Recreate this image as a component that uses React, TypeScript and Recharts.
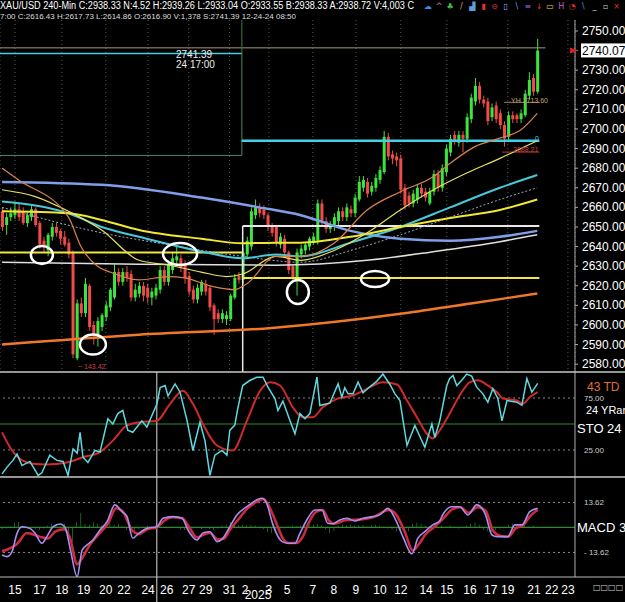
import React from 'react';
import { ComposedChart, Bar, Line, XAxis, YAxis, CartesianGrid, ReferenceLine, ReferenceDot } from 'recharts';

const FONT = '"Liberation Sans", Arial, sans-serif';

// 240-min candles, [open, close, high, low]
const candles: number[][] = [
  [2658, 2650, 2660, 2648], [2651, 2655, 2657, 2646], [2655, 2657, 2660, 2653], [2656, 2659, 2663, 2654],
  [2659, 2655, 2662, 2653], [2658, 2652, 2660, 2651], [2652, 2656, 2658, 2650], [2655, 2659, 2661, 2653],
  [2659, 2651, 2660, 2650], [2652, 2641, 2653, 2639], [2643, 2640, 2645, 2637], [2638, 2646, 2647, 2635],
  [2645, 2650, 2652, 2643], [2650, 2647, 2652, 2645], [2648, 2644, 2649, 2641], [2645, 2641, 2648, 2640],
  [2642, 2636, 2644, 2634], [2637, 2585, 2638, 2583], [2583, 2611, 2613, 2582], [2611, 2606, 2614, 2604],
  [2606, 2621, 2624, 2604], [2620, 2599, 2621, 2597], [2600, 2595, 2602, 2590], [2595, 2602, 2604, 2589],
  [2599, 2605, 2606, 2597], [2604, 2610, 2612, 2602], [2609, 2618, 2619, 2607], [2614, 2627, 2631, 2613],
  [2627, 2622, 2629, 2620], [2622, 2627, 2629, 2620], [2627, 2624, 2630, 2622], [2626, 2614, 2628, 2612],
  [2614, 2618, 2621, 2612], [2616, 2620, 2622, 2614], [2620, 2615, 2622, 2612], [2619, 2614, 2621, 2611],
  [2614, 2617, 2619, 2610], [2615, 2619, 2621, 2613], [2618, 2628, 2630, 2616], [2628, 2622, 2630, 2620],
  [2622, 2631, 2633, 2620], [2628, 2634, 2637, 2626], [2633, 2635, 2640, 2631], [2634, 2629, 2636, 2627],
  [2631, 2624, 2633, 2621], [2625, 2617, 2627, 2615], [2618, 2613, 2620, 2611], [2613, 2619, 2621, 2611],
  [2617, 2622, 2623, 2615], [2621, 2617, 2623, 2615], [2619, 2609, 2620, 2607], [2610, 2603, 2611, 2595],
  [2606, 2603, 2608, 2601], [2603, 2606, 2608, 2601], [2603, 2605, 2607, 2600], [2603, 2615, 2616, 2602],
  [2614, 2624, 2626, 2613], [2625, 2623, 2627, 2621], [2623, 2637, 2639, 2621], [2636, 2643, 2645, 2634],
  [2640, 2658, 2660, 2638], [2656, 2660, 2664, 2654], [2660, 2657, 2662, 2655], [2659, 2656, 2661, 2654],
  [2656, 2650, 2657, 2648], [2651, 2647, 2652, 2645], [2650, 2642, 2651, 2640], [2641, 2645, 2647, 2639],
  [2644, 2637, 2646, 2635], [2637, 2628, 2638, 2626], [2630, 2624, 2631, 2622], [2624, 2637, 2639, 2615],
  [2636, 2639, 2641, 2634], [2638, 2641, 2642, 2636], [2640, 2644, 2645, 2638], [2642, 2645, 2647, 2641],
  [2643, 2662, 2664, 2641], [2662, 2653, 2664, 2651], [2653, 2649, 2655, 2647], [2649, 2651, 2653, 2647],
  [2650, 2655, 2657, 2648], [2653, 2658, 2660, 2651], [2658, 2655, 2660, 2653], [2655, 2660, 2662, 2653],
  [2659, 2657, 2661, 2655], [2657, 2665, 2667, 2655], [2664, 2673, 2676, 2663], [2670, 2674, 2676, 2668],
  [2673, 2667, 2675, 2665], [2668, 2671, 2673, 2666], [2670, 2675, 2677, 2668], [2674, 2679, 2681, 2672],
  [2678, 2696, 2699, 2677], [2696, 2686, 2698, 2684], [2687, 2685, 2689, 2682], [2686, 2684, 2688, 2681],
  [2685, 2669, 2687, 2667], [2670, 2661, 2672, 2659], [2666, 2662, 2668, 2660], [2662, 2667, 2669, 2660],
  [2664, 2670, 2672, 2662], [2670, 2667, 2672, 2665], [2668, 2665, 2670, 2663], [2662, 2668, 2670, 2661],
  [2668, 2677, 2679, 2666], [2677, 2670, 2679, 2668], [2670, 2680, 2682, 2668], [2678, 2690, 2692, 2676],
  [2688, 2695, 2697, 2686], [2697, 2694, 2699, 2692], [2693, 2697, 2699, 2691], [2697, 2695, 2699, 2688],
  [2695, 2706, 2708, 2693], [2705, 2716, 2718, 2703], [2714, 2722, 2726, 2712], [2722, 2715, 2724, 2713],
  [2715, 2713, 2717, 2711], [2714, 2704, 2716, 2702], [2706, 2711, 2713, 2704], [2712, 2705, 2714, 2703],
  [2708, 2702, 2710, 2700], [2702, 2695, 2704, 2691], [2696, 2707, 2709, 2694], [2707, 2705, 2709, 2703],
  [2707, 2705, 2708, 2703], [2705, 2708, 2710, 2703], [2707, 2718, 2720, 2706], [2717, 2725, 2729, 2715],
  [2726, 2719, 2728, 2717], [2719, 2740, 2746, 2718],
];

const lastPrice = 2740.07;
const priceTicks = [2580, 2590, 2600, 2610, 2620, 2630, 2640, 2650, 2660, 2670, 2680, 2690, 2700, 2710, 2720, 2730, lastPrice, 2750];

const dateTicks = [3.1, 9.1, 14.4, 19.7, 25, 29.4, 35.2, 39.7, 45, 49.1, 54.8, 58.6, 64.3, 68.7, 74.9, 80, 85.3, 91.1, 96.1, 102.2, 107.2, 112.8, 117.8, 121.9, 128.2, 132.5, 136.4];
const dateLabels = ['15', '17', '18', '19', '20', '22', '24', '26', '27', '29', '31', '2', '3', '5', '7', '8', '9', '10', '12', '14', '15', '16', '17', '19', '21', '22', '23'];

// moving averages, [bar, price]
const maLongOrange = [[0, 2590], [33, 2595], [65, 2598.5], [97, 2606], [113, 2611], [129, 2616]];
const maBlue = [[0, 2673], [24, 2671.5], [48, 2665], [62, 2660], [72, 2656], [84, 2648], [96, 2644], [108, 2643], [120, 2645], [129, 2648]];
const maCyan = [[0, 2663], [16, 2657], [24, 2650], [33, 2645], [48, 2637.5], [58, 2634], [66, 2636], [72, 2635], [84, 2642], [96, 2650], [108, 2660], [120, 2670], [129, 2676.5]];
const maDotted = [[0, 2660], [24, 2647], [40, 2641], [58, 2635], [72, 2632], [84, 2638], [96, 2646], [108, 2655], [120, 2664], [129, 2670]];
const maYellowSlow = [[0, 2658], [16, 2657], [24, 2653.6], [33, 2648.5], [48, 2644], [58, 2641.7], [66, 2642], [72, 2642], [84, 2645], [96, 2650], [108, 2654.6], [120, 2658.7], [129, 2664]];
const maYellowFast = [[0, 2669], [8, 2665.5], [16, 2658], [24, 2648.5], [33, 2633], [40, 2630.6], [48, 2627], [54, 2624.7], [58, 2626], [66, 2635], [72, 2633], [80, 2638], [88, 2647], [96, 2658.7], [104, 2669], [112, 2677.5], [120, 2685], [129, 2694]];
const maOrangeFast = [[0, 2680], [4, 2674], [16, 2655], [19, 2640], [23, 2630], [26, 2627], [33, 2623], [40, 2624.7], [44, 2624], [51, 2619.5], [56, 2618], [59, 2621], [66, 2635], [72, 2635], [80, 2641.7], [88, 2658.7], [96, 2668], [104, 2675.7], [108, 2682.5], [114, 2691], [120, 2695.3], [125, 2699.5], [129, 2708]];
const maWhite = [[0, 2632], [33, 2631], [66, 2630.5], [88, 2633], [104, 2637.4], [120, 2642.5], [129, 2646]];

// annotation ellipses [bar, price, rx, ry]
const circles = [[9.6, 2635.7, 11, 9], [21.9, 2590, 13, 10], [42.9, 2636.2, 17, 11], [71.3, 2616.8, 11, 12], [89.9, 2623.5, 14, 8]];

// stochastic
const stochK = [[0, 2], [1.2, 8.5], [2.6, 15], [3.6, 21], [4.8, 10], [6.7, 14], [8.7, 0.5], [9.6, 3], [11.5, 20], [13.2, 15], [14.7, 14], [15.9, 0.5], [17.1, 26], [18.1, 22], [18.8, 42], [19.5, 18], [20.7, 13], [22.4, 24.5], [23.6, 23], [25.5, 55], [26.7, 50], [27.9, 60], [29.1, 63], [30.3, 44], [31.5, 42], [33.7, 53], [34.9, 47], [37.3, 69], [38.1, 85], [39.3, 87], [40, 77], [41.7, 88.6], [42.9, 80.6], [44.6, 53], [46, 24.5], [47.7, 51.7], [48.9, 34], [50.1, 0.5], [51.3, 20], [53, 24.5], [54.2, 20], [54.9, 44], [56.1, 49], [56.8, 64.6], [58, 87], [59.7, 91.8], [61.4, 95], [62.9, 95], [64.1, 85.4], [65.8, 74.2], [66.5, 63], [67.7, 72], [69.4, 53], [70.6, 40.6], [71.8, 60], [73, 55], [74.2, 60], [75.9, 95], [76.6, 67.8], [77.8, 69], [79, 70], [81, 88.6], [81.9, 75.8], [82.6, 85], [83.4, 79], [84.6, 79], [85.8, 90.2], [87, 80], [88.7, 86], [90.3, 91], [91.8, 98], [93.5, 88], [94.7, 79], [95.9, 72.6], [97.6, 29.3], [99.5, 48.6], [100.7, 38], [101.9, 27.7], [103.6, 50], [104.3, 37], [105.5, 53], [107.2, 87], [107.9, 93.7], [108.7, 96.6], [109.6, 87], [110.8, 92], [112, 98], [113.2, 96], [114.4, 85.4], [115.9, 79], [117.1, 71], [118.3, 84], [119.5, 74.5], [120.5, 53], [121.7, 72.6], [124.1, 71], [125.3, 68], [126.5, 93.7], [127.7, 80.6], [129.1, 89]];
const stochD = [[0, 42], [1.9, 27.7], [4.3, 16.5], [7.5, 11.7], [10.8, 11], [15.6, 13], [19.5, 18], [23.6, 23], [26.7, 34], [30.1, 48.6], [33.2, 51.7], [37.3, 53], [40.5, 69.4], [43.6, 82], [46, 69.4], [48.4, 50], [51.8, 29.3], [55.6, 24.5], [59, 53], [62.2, 82], [64.6, 90.2], [67, 87], [70.1, 66], [72.5, 56.5], [74.9, 56.5], [77.3, 66], [80.7, 74.2], [84.6, 77.4], [87.9, 83.8], [91.8, 90.2], [95.2, 88], [97.6, 72.6], [100, 56.5], [102.4, 40.6], [103.8, 36], [105.5, 44], [107.9, 60], [110.3, 77.4], [112.8, 90.2], [114.7, 92], [117.1, 87], [119.3, 80.6], [120.7, 74.5], [124.1, 72.6], [125.5, 69.4], [127.2, 75.8], [129.1, 80.6]];

// MACD
const macdLine = [[0, -15], [1.2, -15.9], [2.4, -13.2], [3.6, -3.2], [4.8, 0.4], [6.7, -0.5], [7.9, -3], [9.6, -8.6], [10.8, -5], [12.3, 0.4], [14, 1.9], [15.2, 0], [16.4, -11.3], [18.1, -26.8], [19.3, -12.3], [20.5, -9.5], [21.9, -6.8], [23.6, -1.4], [25.3, 3.2], [27.2, 12.3], [28.9, 8.6], [30.1, 6], [31.5, -5.9], [32.8, -3.5], [34.9, -0.5], [37.3, 0.4], [38.8, 5], [41.2, 5.9], [43.4, 5], [44.8, -1.4], [47, -6.8], [48.4, -3], [50.1, -2.3], [51.8, -7.7], [53.2, -6], [54.9, 0.4], [56.6, 6.8], [59, 11.3], [61.4, 15], [62.6, 15.9], [63.8, 13], [65.3, 1.4], [67.5, -7.7], [68.9, -8.6], [70.6, -8.6], [71.8, -3.2], [73.7, 5], [75.4, 9.5], [77.1, 9.5], [78.5, 2.3], [79.7, 2], [81.4, 4.1], [83.1, 5], [85, 3.5], [87, 5], [89.4, 5.9], [91.1, 7], [93, 10.4], [94.7, 5], [96.6, -5], [98.8, -14.4], [100.2, -6], [101.9, -2.3], [103.8, 1.4], [105.5, 3.7], [106.2, 6.8], [108.4, 11.3], [110.3, 11.3], [112.3, 6.8], [114.4, 12.3], [116.4, 7.7], [118.1, -4.1], [119.3, -5], [121.9, -5], [123.6, 1.4], [125.3, 1.4], [127.2, 8.6], [129.1, 10.4]];
const macdSignal = [[0, -13], [3.6, -9], [6, -3], [9, -5], [11, -6], [13, -2], [15, -1], [16.4, -6], [18.1, -20], [19.5, -16], [21, -10], [23.6, -3], [25.5, 2], [27.5, 10.5], [29, 9], [31.5, -2], [33, -3.5], [35, -1], [37.3, 0], [39, 3.5], [41.2, 5.5], [43.4, 5], [45, 0.5], [47, -5.5], [48.5, -4], [50.1, -3], [52, -6.5], [53.5, -6], [55, -1], [57, 4.5], [59, 10], [61.4, 14], [63, 15.5], [64, 13], [66, 3], [67.7, -6], [69, -8.5], [71, -8.5], [72.5, -5], [74, 3], [75.7, 8.5], [77.3, 9.5], [78.7, 4], [80, 2], [83, 4], [87, 4.5], [89.4, 5.5], [93.2, 9.5], [95, 7], [97, -2], [99, -12.5], [100.5, -9], [102, -4], [104, 0], [106.4, 5], [108.6, 10], [110.5, 11], [112.5, 8], [114.6, 11], [116.6, 9], [118.3, -1.5], [120, -4.5], [122, -5], [123.8, -0.5], [125.5, 1], [127.4, 6.5], [129.1, 9.5]];
const macdHist = [
  -1, -0.5, 0.5, 2.5, 3, 1, 0.5, -0.5, -1, -1.5, -0.5, 1, 2, 1.5, 0.5, 2, -6, -8, 3, 8,
  2, 1.5, 3, 2, 1, 3, 2.5, 1.5, 2, 0.5, -1.5, -2, -2.5, -1, 0.5, 1, 0.5, 1, 0.5, 0,
  -0.5, 0.5, 0, -1, -1.5, -1, -0.5, 0.5, -1, -0.5, -1, -1.5, -0.5, 1, 1.5, 3, 2.5, 1, 1.5, 1,
  1.5, 1, 0.5, -1, -2.5, -3, -2, -1, -0.5, 0.5, 1, 0.5, 1, 2, 2.5, 1.5, 2, 1, -1, -3,
  -2, 1, 1.5, 1, 1.5, 1, 1, 1.5, 0.5, 1, 1.5, 1, 0.5, -0.5, -1, -2, -3, -2.5, -2, 2,
  2.5, 2, 1, 0.5, -0.5, 0.5, 1, 0.5, 1, 0.5, -0.5, 0.5, 1, 2, 2.5, 1.5, -1, -2, -2.5, -1.5,
  -0.5, 0.5, 1.5, 2, 1.5, 1, 1, 0.5, 1, 0.5,
];

const priceData = candles.map(([o, c, h, l], i) => ({ i, o, c, h, l }));
const histData = macdHist.map((h, i) => ({ i, h }));
const pts = (arr: number[][]) => arr.map(([i, v]) => ({ i, v }));

const X_DOMAIN: [number, number] = [-0.5, 138.1];
const UP = '#3ee43e';
const DOWN = '#f04a4a';

function Candle(props: any) {
  const { x, y, width, height, payload } = props;
  const { o, c, h, l } = payload;
  const top = Math.min(y, y + height);
  const span = Math.abs(height);
  const py = (v: number) => top + ((h - v) / (h - l)) * span;
  const color = c >= o ? UP : DOWN;
  const cx = x + width / 2;
  const bt = py(Math.max(o, c));
  const bb = py(Math.min(o, c));
  return (
    <g>
      <line x1={cx} x2={cx} y1={top} y2={top + span} stroke={color} strokeWidth={1} />
      <rect x={x} y={bt} width={width} height={Math.max(1, bb - bt)} fill={color} />
    </g>
  );
}

function PriceTick(props: any) {
  const { x, y, payload } = props;
  if (payload.value === lastPrice) {
    return (
      <g>
        <polygon points={`${x - 10},${y - 3} ${x - 2},${y} ${x - 10},${y + 3}`} fill="#e02020" />
        <rect x={x + 1} y={y - 7} width={50} height={14} fill="#fff" />
        <text x={x + 2} y={y + 5} fill="#000" fontSize={12} fontFamily={FONT}>{lastPrice.toFixed(2)}</text>
      </g>
    );
  }
  return (
    <text x={x + 2} y={y + 4} fill="#fff" fontSize={12} fontFamily={FONT}>{payload.value.toFixed(2)}</text>
  );
}

function DateTick(props: any) {
  const { x, y, payload } = props;
  const k = dateTicks.indexOf(payload.value);
  return (
    <text x={x} y={y + 9} fill="#fff" fontSize={12} textAnchor="middle" fontFamily={FONT}>{dateLabels[k]}</text>
  );
}

const ellipseShape = (rx: number, ry: number) => (p: any) => (
  <ellipse cx={p.cx} cy={p.cy} rx={rx} ry={ry} fill="none" stroke="#fff" strokeWidth={2.5} />
);

const icons = [
  ['☁', '#3a8ee8'], ['^', '#e060c0'], ['♣', '#40c040'], ['/', '#e0a030'], ['▟', '#60a0e0'], ['▮', '#e03030'],
  ['⊖', '#e03030'], ['▯', '#a0a0ff'], ['\\', '#60a0e0'], ['≡', '#a070e0'], ['↓', '#e03030'], ['▭', '#f0e020'],
  ['H', '#c060c0'], ['◔', '#e03030'], ['\\', '#3090f0'], ['_', '#ccc'], ['▫', '#ccc'], ['×', '#e03030'],
];

export default function App() {
  return (
    <div style={{ position: 'absolute', left: 0, top: 0, width: 625, height: 602, background: '#000', overflow: 'hidden', fontFamily: FONT }}>
      {/* price panel */}
      <div style={{ position: 'absolute', left: 0, top: 20 }}>
        <ComposedChart width={625} height={352} data={priceData} margin={{ top: 0, right: 0, bottom: 0, left: 0 }}>
          <CartesianGrid horizontal={false} stroke="#5a5a5a" strokeDasharray="1 3" />
          <XAxis dataKey="i" type="number" domain={X_DOMAIN} ticks={dateTicks} hide allowDataOverflow />
          <YAxis
            orientation="right"
            width={50}
            domain={[2576, 2755.6]}
            ticks={priceTicks}
            interval={0}
            allowDataOverflow
            axisLine={{ stroke: '#aaa' }}
            tickLine={{ stroke: '#aaa' }}
            tickSize={3}
            tick={<PriceTick />}
          />
          {/* drawn levels */}
          <ReferenceLine segment={[{ x: -0.5, y: 2741.39 }, { x: 131, y: 2741.39 }]} stroke="#a89878" strokeWidth={1} />
          <ReferenceLine segment={[{ x: -0.5, y: 2738.5 }, { x: 57.8, y: 2738.5 }]} stroke="#40d0e0" strokeWidth={1.5} />
          <ReferenceLine segment={[{ x: 57.8, y: 2755.6 }, { x: 57.8, y: 2738.5 }]} stroke="#3a7a3a" strokeWidth={1} />
          <ReferenceLine segment={[{ x: 57.8, y: 2738.5 }, { x: 57.8, y: 2686.5 }]} stroke="#4a8a6a" strokeWidth={1} />
          <ReferenceLine segment={[{ x: -0.5, y: 2686.5 }, { x: 57.8, y: 2686.5 }]} stroke="#4a8a6a" strokeWidth={1} />
          <ReferenceLine segment={[{ x: 57.8, y: 2694 }, { x: 129.5, y: 2694 }]} stroke="#40d0e8" strokeWidth={2.5} />
          <ReferenceLine segment={[{ x: 121, y: 2713.6 }, { x: 129.5, y: 2713.6 }]} stroke="#a08060" strokeWidth={1} />
          <ReferenceLine segment={[{ x: 120.5, y: 2688.2 }, { x: 129.5, y: 2688.2 }]} stroke="#c03030" strokeWidth={1} />
          <ReferenceLine segment={[{ x: 58, y: 2650.5 }, { x: 129.5, y: 2650.5 }]} stroke="#e8e8e8" strokeWidth={2} />
          <ReferenceLine segment={[{ x: 58, y: 2650.5 }, { x: 58, y: 2576 }]} stroke="#e8e8e8" strokeWidth={1.5} />
          <ReferenceLine segment={[{ x: -0.5, y: 2637 }, { x: 58, y: 2637 }]} stroke="#f0e840" strokeWidth={2} />
          <ReferenceLine segment={[{ x: 58, y: 2624 }, { x: 129.5, y: 2624 }]} stroke="#f0e840" strokeWidth={2} />
          {/* moving averages */}
          <Line data={pts(maLongOrange)} dataKey="v" type="monotone" stroke="#f07828" strokeWidth={2.5} dot={false} isAnimationActive={false} />
          <Line data={pts(maWhite)} dataKey="v" type="monotone" stroke="#e0e0e0" strokeWidth={1.5} dot={false} isAnimationActive={false} />
          <Line data={pts(maBlue)} dataKey="v" type="monotone" stroke="#7f9fe8" strokeWidth={2.5} dot={false} isAnimationActive={false} />
          <Line data={pts(maDotted)} dataKey="v" type="monotone" stroke="#9aaabb" strokeWidth={1} strokeDasharray="2 2" dot={false} isAnimationActive={false} />
          <Line data={pts(maCyan)} dataKey="v" type="monotone" stroke="#48c8d8" strokeWidth={2} dot={false} isAnimationActive={false} />
          <Line data={pts(maYellowSlow)} dataKey="v" type="monotone" stroke="#f0e832" strokeWidth={2} dot={false} isAnimationActive={false} />
          <Line data={pts(maYellowFast)} dataKey="v" type="monotone" stroke="#e8e060" strokeWidth={1.2} dot={false} isAnimationActive={false} />
          <Line data={pts(maOrangeFast)} dataKey="v" type="monotone" stroke="#d8844c" strokeWidth={1.2} dot={false} isAnimationActive={false} />
          <Bar dataKey={(d: any) => [d.l, d.h]} barSize={3} shape={<Candle />} isAnimationActive={false} />
          {circles.map(([i, p, rx, ry], k) => (
            <ReferenceDot key={k} x={i} y={p} r={1} shape={ellipseShape(rx, ry)} />
          ))}
        </ComposedChart>
      </div>

      {/* stochastic panel */}
      <div style={{ position: 'absolute', left: 0, top: 372 }}>
        <ComposedChart width={625} height={105} margin={{ top: 0, right: 0, bottom: 0, left: 0 }}>
          <XAxis dataKey="i" type="number" domain={X_DOMAIN} hide allowDataOverflow />
          <YAxis
            orientation="right"
            width={50}
            domain={[-1, 100]}
            ticks={[25, 75]}
            allowDataOverflow
            axisLine={{ stroke: '#aaa' }}
            tickLine={false}
            tickMargin={3}
            tickFormatter={(v: number) => v.toFixed(2)}
            tick={{ fill: '#ccc', fontSize: 8, fontFamily: FONT }}
          />
          <ReferenceLine y={75} stroke="#888" strokeDasharray="2 3" />
          <ReferenceLine y={25} stroke="#888" strokeDasharray="2 3" />
          <ReferenceLine y={50} stroke="#2f8a2f" strokeWidth={1.2} />
          <ReferenceLine x={37.3} stroke="#ddd" strokeWidth={1} />
          <Line data={pts(stochD)} dataKey="v" type="monotone" stroke="#d02a2a" strokeWidth={2} dot={false} isAnimationActive={false} />
          <Line data={pts(stochK)} dataKey="v" type="linear" stroke="#5fd8e0" strokeWidth={1.5} dot={false} isAnimationActive={false} />
        </ComposedChart>
      </div>

      {/* MACD panel with date axis */}
      <div style={{ position: 'absolute', left: 0, top: 477 }}>
        <ComposedChart width={625} height={125} data={histData} margin={{ top: 0, right: 0, bottom: 0, left: 0 }}>
          <XAxis
            dataKey="i"
            type="number"
            domain={X_DOMAIN}
            ticks={dateTicks}
            interval={0}
            height={25}
            allowDataOverflow
            axisLine={{ stroke: '#bbb' }}
            tickLine={false}
            tick={<DateTick />}
          />
          <YAxis
            orientation="right"
            width={50}
            domain={[-27, 27.5]}
            ticks={[-13.62, 13.62]}
            allowDataOverflow
            axisLine={{ stroke: '#aaa' }}
            tickLine={false}
            tickMargin={3}
            tickFormatter={(v: number) => (v < 0 ? '- 13.62' : '13.62')}
            tick={{ fill: '#ccc', fontSize: 8, fontFamily: FONT }}
          />
          <ReferenceLine y={13.62} stroke="#888" strokeDasharray="2 3" />
          <ReferenceLine y={-13.62} stroke="#888" strokeDasharray="2 3" />
          <ReferenceLine y={0} stroke="#2f8a2f" strokeWidth={1.2} />
          <ReferenceLine segment={[{ x: 37.3, y: 27.5 }, { x: 37.3, y: -41 }]} stroke="#ddd" strokeWidth={1} ifOverflow="visible" />
          <Bar dataKey="h" barSize={2.5} fill="#55ee55" isAnimationActive={false} />
          <Line data={pts(macdSignal)} dataKey="v" type="monotone" stroke="#d02a40" strokeWidth={2.5} dot={false} isAnimationActive={false} />
          <Line data={pts(macdLine)} dataKey="v" type="monotone" stroke="#a58ff0" strokeWidth={1.6} dot={false} isAnimationActive={false} />
        </ComposedChart>
      </div>

      {/* header, separators and labels */}
      <svg width={625} height={602} style={{ position: 'absolute', left: 0, top: 0, pointerEvents: 'none' }} fontFamily={FONT}>
        <text x={0} y={9} fill="#fff" fontSize={10} textLength={414} lengthAdjust="spacingAndGlyphs">
          XAU/USD 240-Min C:2938.33 N:4.52 H:2939.26 L:2933.04 O:2933.55 B:2938.33 A:2938.72 V:4,003 C
        </text>
        {icons.map(([g, c], k) => (
          <text key={k} x={428 + k * 11.1} y={9} fill={c} fontSize={8} textAnchor="middle" fontFamily="DejaVu Sans">{g}</text>
        ))}
        <text x={0} y={19} fill="#ddd" fontSize={8} textLength={296} lengthAdjust="spacingAndGlyphs">
          7:00 C:2616.43 H:2617.73 L:2614.86 O:2616.90 V:1,378 S:2741.39 12-24-24 08:50
        </text>
        <text x={176} y={58} fill="#eee" fontSize={10}>2741.39</text>
        <text x={176} y={68} fill="#eee" fontSize={10}>24 17:00</text>
        <text x={511} y={103} fill="#c8a070" fontSize={7}>YH 2713.60</text>
        <text x={535} y={141} fill="#40d0e0" fontSize={7}>0</text>
        <text x={513} y={152} fill="#d04040" fontSize={7}>2688.21</text>
        <text x={78} y={369} fill="#d04040" fontSize={7}>~ 143.42</text>
        <line x1={0} x2={625} y1={372} y2={372} stroke="#c8c8c8" strokeWidth={1.5} />
        <line x1={0} x2={625} y1={477} y2={477} stroke="#c8c8c8" strokeWidth={1.5} />
        <line x1={575} x2={625} y1={577} y2={577} stroke="#bbb" strokeWidth={1} />
        <text x={587} y={391} fill="#e07030" fontSize={12}>43 TD</text>
        <text x={586} y={414} fill="#fff" fontSize={11}>24 YRan</text>
        <text x={577} y={433} fill="#fff" fontSize={13}>STO 24</text>
        <text x={577} y={532} fill="#fff" fontSize={13}>MACD 3</text>
        <text x={258} y={599} fill="#fff" fontSize={12} textAnchor="middle">2025</text>
        <text x={593} y={590} fill="#ccc" fontSize={8} fontFamily="DejaVu Sans">□□□□</text>
      </svg>
    </div>
  );
}
